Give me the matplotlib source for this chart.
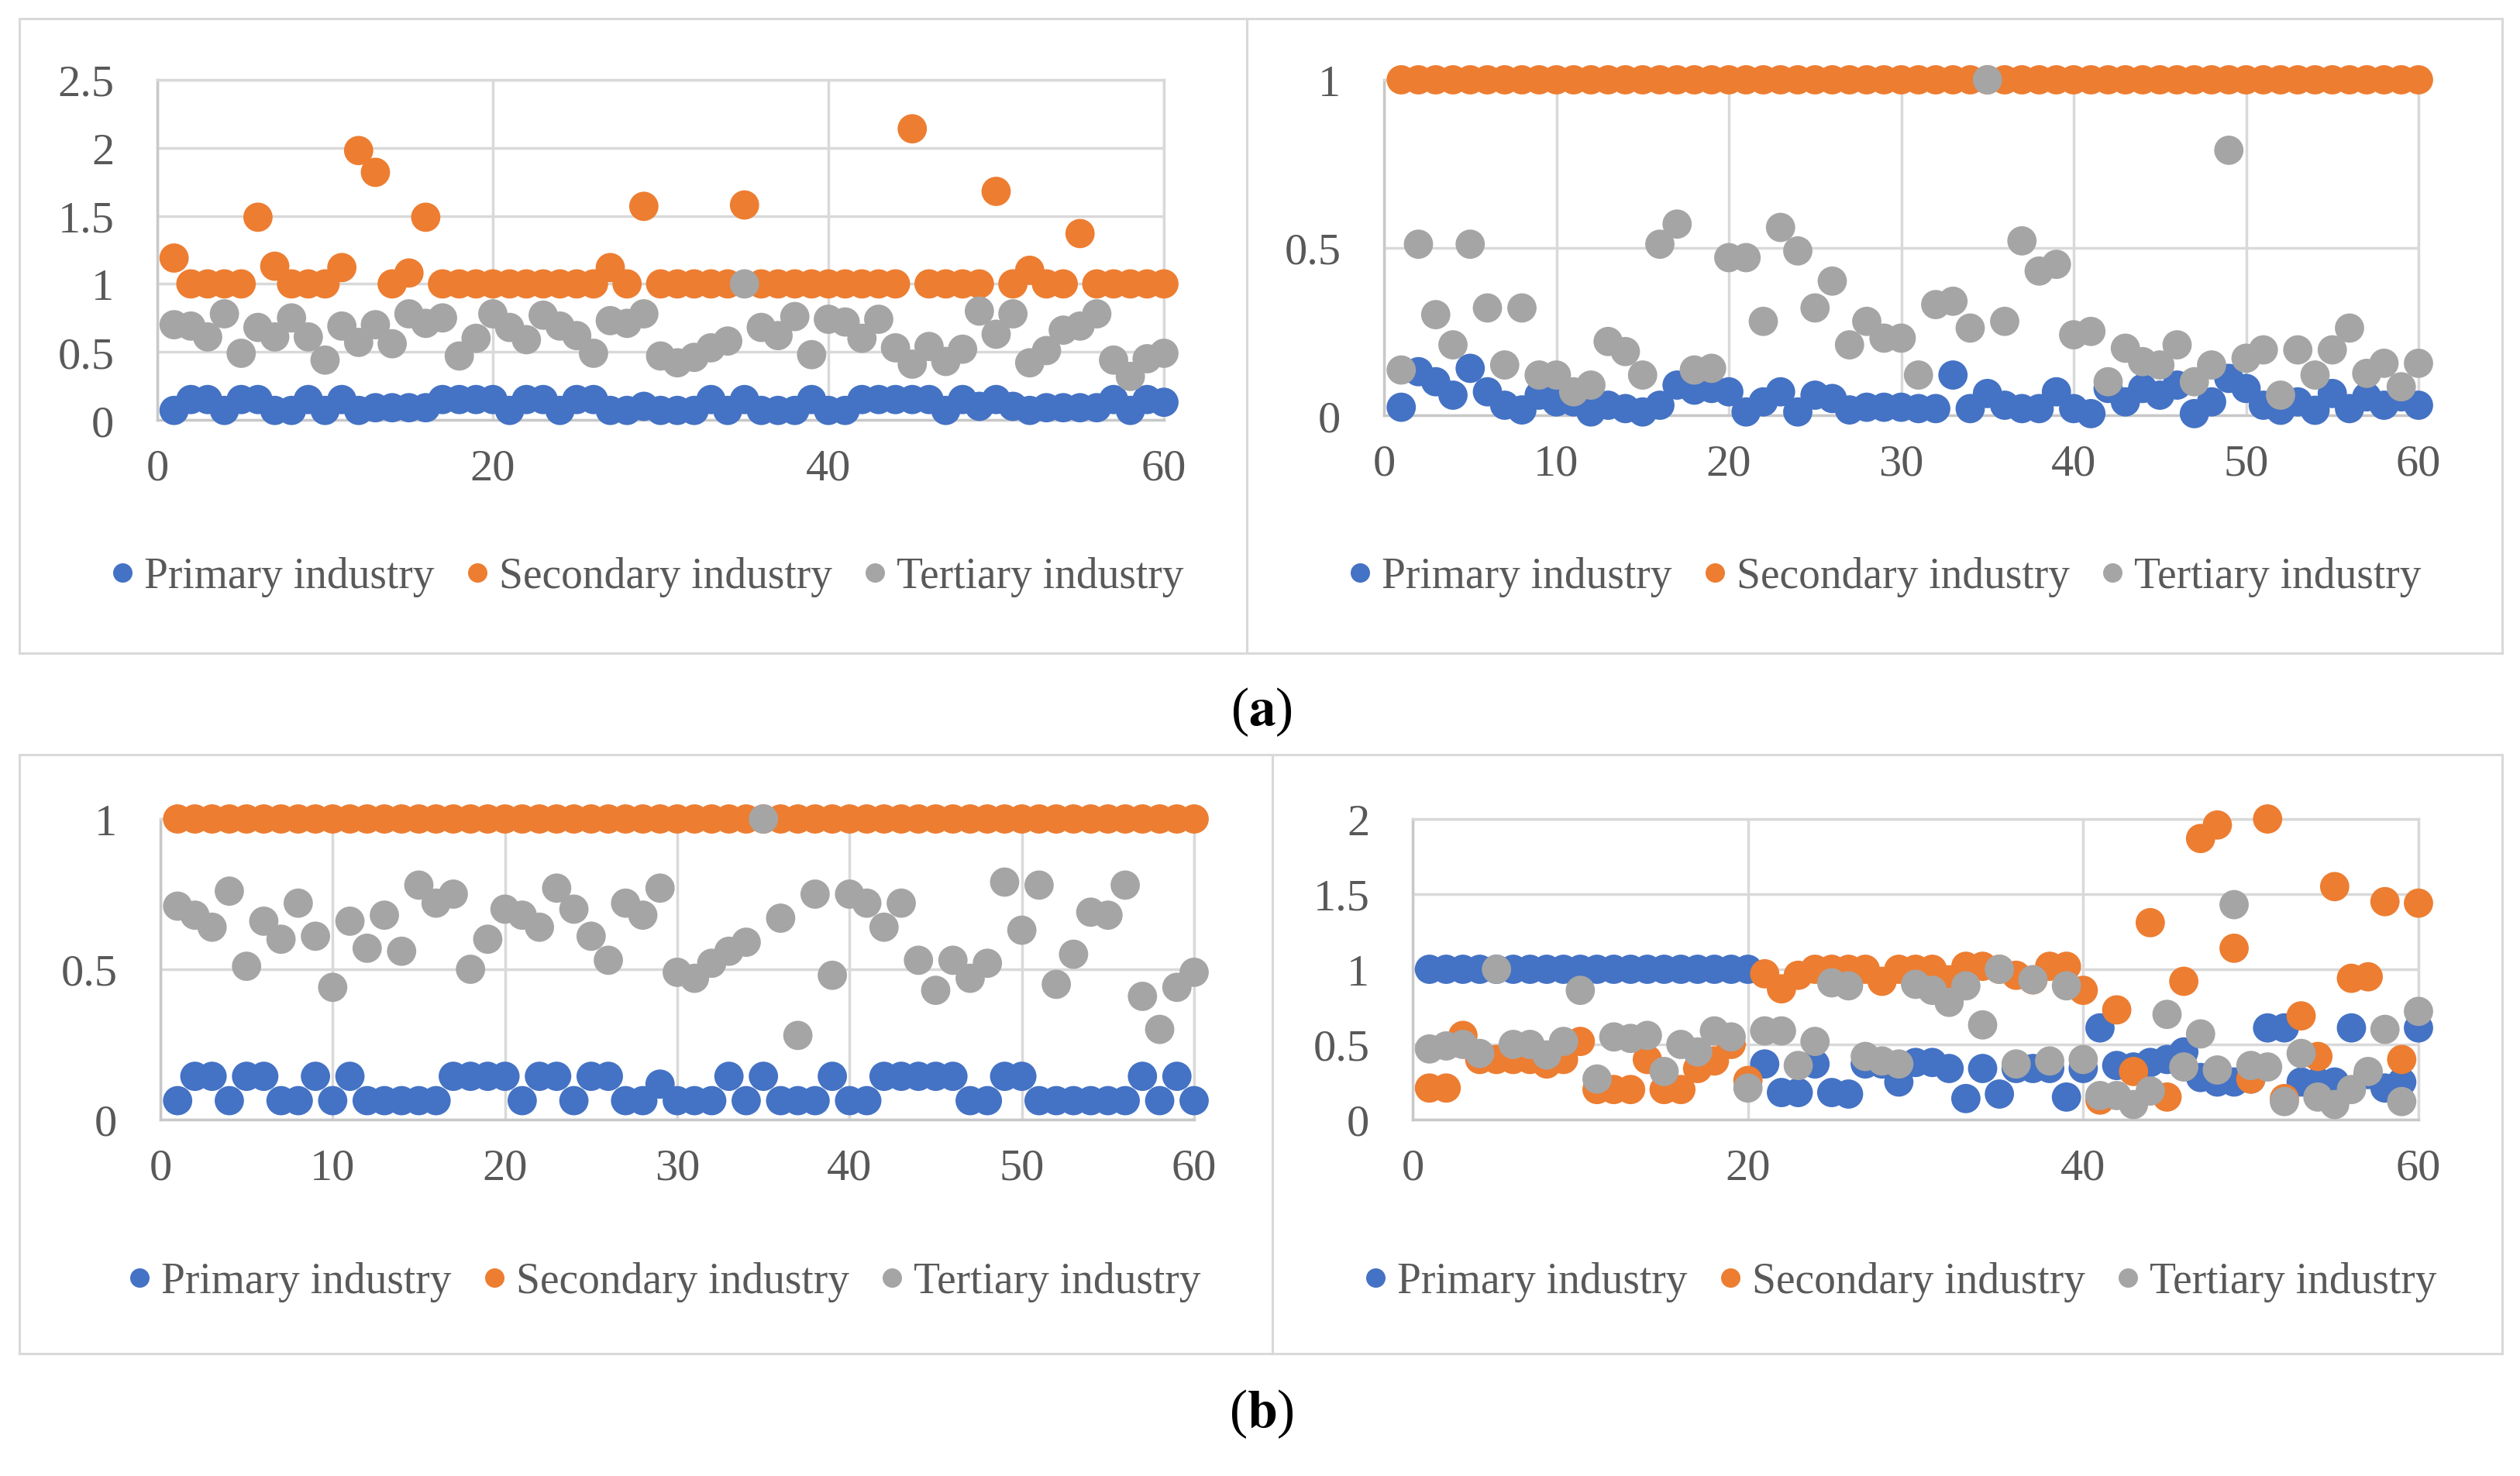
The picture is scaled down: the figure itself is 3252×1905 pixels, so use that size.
import matplotlib
matplotlib.use("Agg")
import matplotlib.pyplot as plt
from matplotlib.lines import Line2D
from matplotlib.patches import Rectangle
import numpy as np

plt.rcParams['font.family'] = ['Liberation Serif', 'DejaVu Serif']
plt.rcParams['mathtext.fontset'] = 'stix'

x = np.arange(1, 61)
labels = ['Primary industry', 'Secondary industry', 'Tertiary industry']
colors = ['#4472C4', '#ED7D31', '#A5A5A5']

# (a) left
a_left_primary = [0.07, 0.15, 0.15, 0.07, 0.15, 0.15, 0.07, 0.07, 0.15, 0.07,
                  0.15, 0.07, 0.09, 0.09, 0.09, 0.09, 0.15, 0.15, 0.15, 0.15,
                  0.07, 0.15, 0.15, 0.07, 0.15, 0.15, 0.07, 0.07, 0.10, 0.07,
                  0.07, 0.07, 0.15, 0.07, 0.15, 0.07, 0.07, 0.07, 0.15, 0.07,
                  0.07, 0.15, 0.15, 0.15, 0.15, 0.15, 0.07, 0.15, 0.10, 0.15,
                  0.10, 0.07, 0.09, 0.09, 0.09, 0.09, 0.15, 0.07, 0.15, 0.13]
a_left_secondary = [1.19, 1.0, 1.0, 1.0, 1.0, 1.49, 1.13, 1.0, 1.0, 1.0,
                    1.12, 1.98, 1.82, 1.0, 1.08, 1.49, 1.0, 1.0, 1.0, 1.0,
                    1.0, 1.0, 1.0, 1.0, 1.0, 1.0, 1.12, 1.0, 1.57, 1.0,
                    1.0, 1.0, 1.0, 1.0, 1.58, 1.0, 1.0, 1.0, 1.0, 1.0,
                    1.0, 1.0, 1.0, 1.0, 2.14, 1.0, 1.0, 1.0, 1.0, 1.68,
                    1.0, 1.10, 1.0, 1.0, 1.37, 1.0, 1.0, 1.0, 1.0, 1.0]
a_left_tertiary = [0.70, 0.69, 0.61, 0.78, 0.49, 0.68, 0.61, 0.75, 0.61, 0.44,
                   0.69, 0.57, 0.70, 0.56, 0.78, 0.71, 0.75, 0.47, 0.60, 0.78,
                   0.68, 0.59, 0.77, 0.69, 0.62, 0.49, 0.73, 0.71, 0.78, 0.47,
                   0.42, 0.46, 0.53, 0.58, 1.00, 0.68, 0.62, 0.76, 0.48, 0.74,
                   0.72, 0.60, 0.74, 0.53, 0.41, 0.54, 0.43, 0.52, 0.80, 0.63,
                   0.78, 0.42, 0.51, 0.66, 0.69, 0.78, 0.44, 0.32, 0.45, 0.49]

# (a) right
a_right_primary = [0.024, 0.13, 0.10, 0.06, 0.14, 0.07, 0.03, 0.016, 0.06, 0.04,
                   0.04, 0.01, 0.03, 0.02, 0.01, 0.03, 0.09, 0.075, 0.08, 0.07,
                   0.01, 0.04, 0.07, 0.01, 0.06, 0.05, 0.016, 0.024, 0.024, 0.024,
                   0.02, 0.02, 0.12, 0.02, 0.065, 0.03, 0.02, 0.02, 0.07, 0.02,
                   0.005, 0.08, 0.04, 0.08, 0.06, 0.09, 0.005, 0.04, 0.11, 0.08,
                   0.03, 0.015, 0.04, 0.015, 0.065, 0.02, 0.055, 0.03, 0.055, 0.03]
a_right_secondary = [1.0] * 60
a_right_tertiary = [0.135, 0.51, 0.30, 0.21, 0.51, 0.32, 0.15, 0.32, 0.12, 0.12,
                    0.07, 0.09, 0.22, 0.19, 0.12, 0.51, 0.57, 0.135, 0.14, 0.47,
                    0.47, 0.28, 0.56, 0.49, 0.32, 0.40, 0.21, 0.28, 0.23, 0.23,
                    0.12, 0.33, 0.34, 0.26, 1.00, 0.28, 0.52, 0.43, 0.45, 0.24,
                    0.25, 0.10, 0.20, 0.16, 0.15, 0.21, 0.10, 0.15, 0.79, 0.17,
                    0.195, 0.06, 0.195, 0.12, 0.195, 0.26, 0.125, 0.155, 0.085, 0.155]

# (b) left
b_left_primary = [0.063, 0.144, 0.144, 0.063, 0.144, 0.144, 0.063, 0.063, 0.144, 0.063,
                  0.144, 0.063, 0.063, 0.063, 0.063, 0.063, 0.144, 0.144, 0.144, 0.144,
                  0.063, 0.144, 0.144, 0.063, 0.144, 0.144, 0.063, 0.063, 0.118, 0.063,
                  0.063, 0.063, 0.144, 0.063, 0.144, 0.063, 0.063, 0.063, 0.144, 0.063,
                  0.063, 0.144, 0.144, 0.144, 0.144, 0.144, 0.063, 0.063, 0.144, 0.144,
                  0.063, 0.063, 0.063, 0.063, 0.063, 0.063, 0.144, 0.063, 0.144, 0.063]
b_left_secondary = [1.0] * 60
b_left_tertiary = [0.71, 0.68, 0.64, 0.76, 0.51, 0.66, 0.60, 0.72, 0.61, 0.44,
                   0.66, 0.57, 0.68, 0.56, 0.78, 0.72, 0.75, 0.50, 0.60, 0.70,
                   0.68, 0.64, 0.77, 0.70, 0.61, 0.53, 0.72, 0.68, 0.77, 0.49,
                   0.47, 0.52, 0.56, 0.59, 1.00, 0.67, 0.28, 0.75, 0.48, 0.75,
                   0.72, 0.64, 0.72, 0.53, 0.43, 0.53, 0.47, 0.52, 0.79, 0.63,
                   0.78, 0.45, 0.55, 0.69, 0.68, 0.78, 0.41, 0.30, 0.44, 0.49]

# (b) right
b_right_primary = [1.0, 1.0, 1.0, 1.0, 1.0, 1.0, 1.0, 1.0, 1.0, 1.0,
                   1.0, 1.0, 1.0, 1.0, 1.0, 1.0, 1.0, 1.0, 1.0, 1.0,
                   0.37, 0.18, 0.18, 0.37, 0.18, 0.17, 0.37, 0.37, 0.25, 0.38,
                   0.38, 0.34, 0.14, 0.34, 0.17, 0.34, 0.34, 0.34, 0.15, 0.34,
                   0.61, 0.36, 0.35, 0.38, 0.40, 0.45, 0.28, 0.25, 0.25, 0.27,
                   0.61, 0.61, 0.25, 0.25, 0.25, 0.61, 0.30, 0.21, 0.25, 0.61]
b_right_secondary = [0.21, 0.21, 0.56, 0.40, 0.40, 0.40, 0.40, 0.37, 0.40, 0.52,
                     0.20, 0.20, 0.20, 0.40, 0.20, 0.20, 0.34, 0.39, 0.50, 0.26,
                     0.97, 0.87, 0.96, 1.00, 1.00, 1.00, 1.00, 0.92, 1.00, 1.00,
                     1.00, 0.93, 1.02, 1.02, 1.00, 0.96, 0.93, 1.02, 1.02, 0.86,
                     0.13, 0.73, 0.32, 1.31, 0.15, 0.92, 1.87, 1.96, 1.14, 0.27,
                     2.00, 0.14, 0.69, 0.42, 1.55, 0.94, 0.95, 1.45, 0.40, 1.44]
b_right_tertiary = [0.47, 0.49, 0.50, 0.44, 1.00, 0.50, 0.50, 0.43, 0.52, 0.86,
                    0.27, 0.55, 0.54, 0.56, 0.32, 0.50, 0.45, 0.59, 0.55, 0.21,
                    0.59, 0.59, 0.36, 0.52, 0.91, 0.89, 0.42, 0.39, 0.37, 0.90,
                    0.86, 0.78, 0.89, 0.63, 1.00, 0.37, 0.93, 0.39, 0.89, 0.40,
                    0.16, 0.16, 0.10, 0.19, 0.70, 0.35, 0.57, 0.33, 1.43, 0.36,
                    0.35, 0.12, 0.44, 0.15, 0.10, 0.20, 0.32, 0.60, 0.12, 0.72]

W, H = 3252, 1906
fig = plt.figure(figsize=(W / 100, H / 100), dpi=100)


def frac(x0, y0, x1, y1):
    # pixel box (top-left origin) -> figure fraction rect
    return [x0 / W, 1 - y1 / H, (x1 - x0) / W, (y1 - y0) / H]


# panel frames
for box in [(25, 25, 1609, 844), (1609, 25, 3229, 844),
            (25, 975, 1642, 1748), (1642, 975, 3229, 1748)]:
    r = frac(*box)
    fig.patches.append(Rectangle((r[0], r[1]), r[2], r[3], transform=fig.transFigure,
                                 fill=False, edgecolor='#D9D9D9', lw=2.2))


def panel(rect, series, xticks, yticks, legend_center):
    ax = fig.add_axes(frac(*rect))
    for vals, c in zip(series, colors):
        ax.scatter(x, vals, s=740, color=c, edgecolors='none', clip_on=False, zorder=3)
    ax.set_xlim(0, 60)
    ax.set_ylim(yticks[0], yticks[-1])
    ax.set_xticks(xticks)
    ax.set_yticks(yticks)
    ax.set_yticklabels([f'{t:g}' for t in yticks])
    ax.grid(True, color='#D9D9D9', lw=2.5, zorder=0)
    ax.set_axisbelow(True)
    for side, sp in ax.spines.items():
        sp.set_color('#D9D9D9' if side in ('top', 'right') else '#C8C8C8')
        sp.set_linewidth(2.5)
    ax.tick_params(axis='both', length=0, labelsize=42, labelcolor='#595959')
    ax.tick_params(axis='x', pad=26)
    ax.tick_params(axis='y', pad=40)
    handles = [Line2D([], [], marker='o', ls='none', markersize=18,
                      markerfacecolor=c, markeredgecolor='none') for c in colors]
    fig.legend(handles, labels, loc='center', bbox_to_anchor=legend_center, ncol=3,
               frameon=False, fontsize=40, labelcolor='#595959', handlelength=0.5,
               handletextpad=0.25, columnspacing=0.75, borderaxespad=0)
    return ax


panel((203, 104, 1502, 543), [a_left_primary, a_left_secondary, a_left_tertiary],
      [0, 20, 40, 60], [0, 0.5, 1, 1.5, 2, 2.5], (836 / W, 1 - 745 / H))
panel((1786, 104, 3121, 537), [a_right_primary, a_right_secondary, a_right_tertiary],
      range(0, 61, 10), [0, 0.5, 1], (2433 / W, 1 - 745 / H))
panel((207, 1058, 1541, 1446), [b_left_primary, b_left_secondary, b_left_tertiary],
      range(0, 61, 10), [0, 0.5, 1], (858 / W, 1 - 1655 / H))
panel((1823, 1058, 3121, 1446), [b_right_primary, b_right_secondary, b_right_tertiary],
      [0, 20, 40, 60], [0, 0.5, 1, 1.5, 2], (2453 / W, 1 - 1655 / H))

fig.text(1628 / W, 1 - 919 / H, r'($\mathbf{a}$)', ha='center', va='center', fontsize=50)
fig.text(1628 / W, 1 - 1825 / H, r'($\mathbf{b}$)', ha='center', va='center', fontsize=50)

fig.savefig('out.png', dpi=100)
